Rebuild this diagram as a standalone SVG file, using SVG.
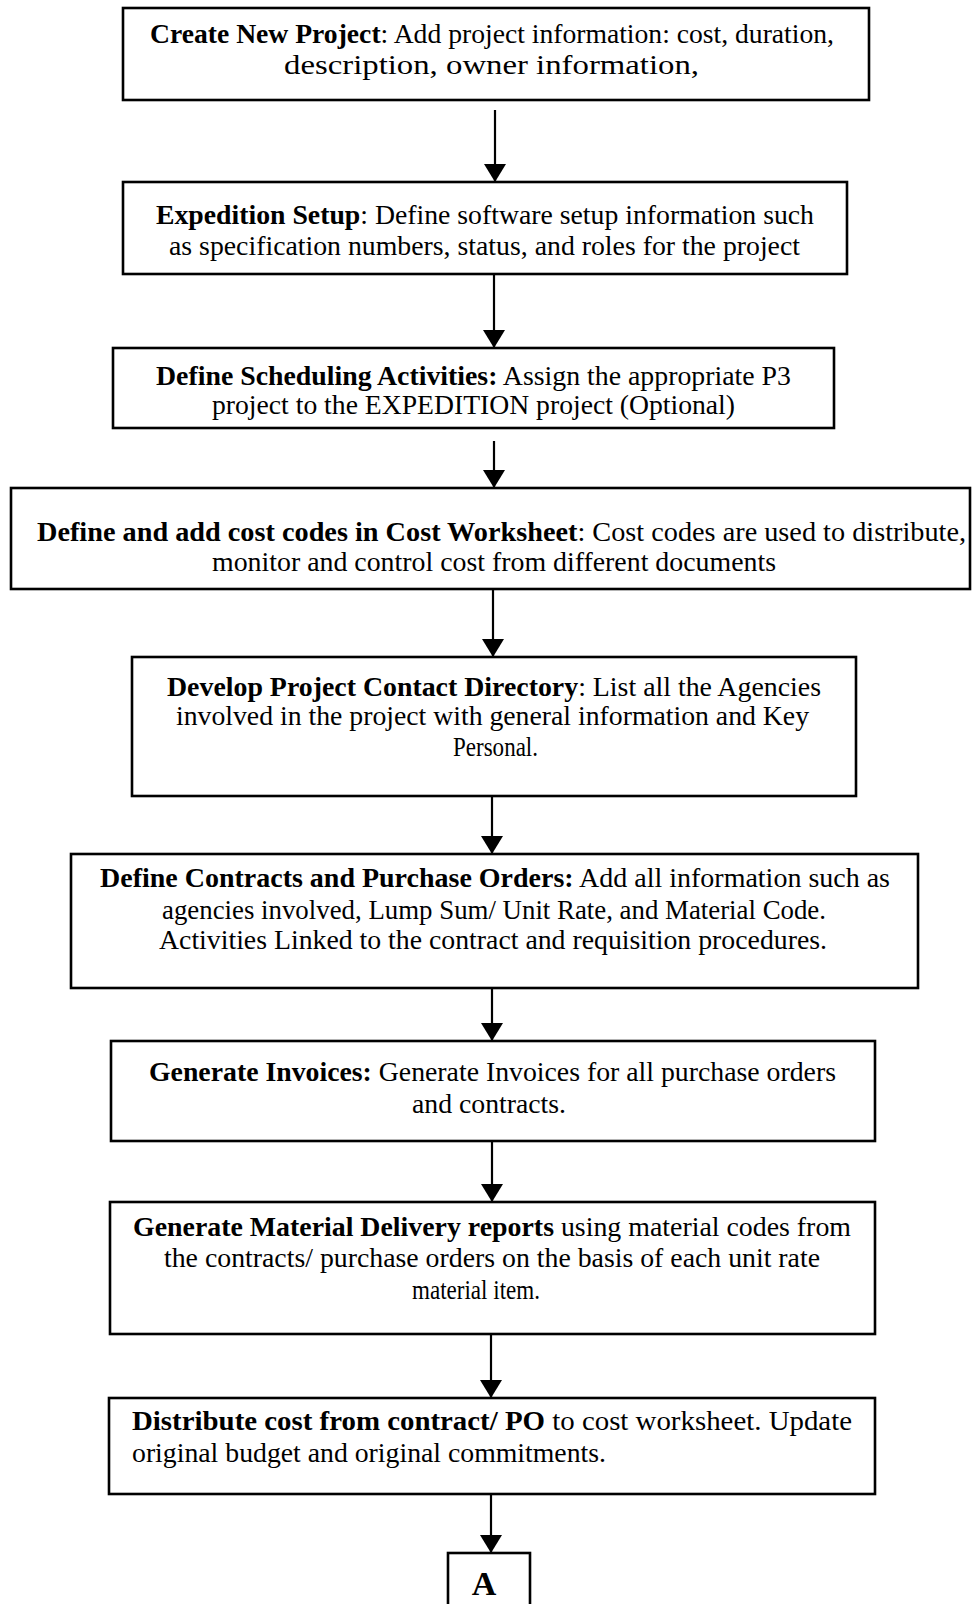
<svg xmlns="http://www.w3.org/2000/svg" width="972" height="1604" viewBox="0 0 972 1604">
  <style>
    .box { fill: #ffffff; stroke: #000000; stroke-width: 2.6; }
    .lbl { font-family: "Liberation Serif", "Times New Roman", serif; font-size: 27.5px; fill: #000000; }
    .c { text-anchor: middle; }
    .b { font-weight: bold; }
    .link { stroke: #000000; stroke-width: 2.2; fill: none; marker-end: url(#head); }
  </style>
  <defs>
    <marker id="head" viewBox="0 0 18 22" refX="18" refY="11" markerWidth="18" markerHeight="22" markerUnits="userSpaceOnUse" orient="auto">
      <path d="M0,0 L18,11 L0,22 z" fill="#000000"/>
    </marker>
  </defs>
  <rect width="972" height="1604" fill="#ffffff"/>

  <g id="connectors">
    <line class="link" x1="495" y1="110" x2="495" y2="182"/>
    <line class="link" x1="494" y1="274" x2="494" y2="348"/>
    <line class="link" x1="494" y1="441" x2="494" y2="488"/>
    <line class="link" x1="493" y1="582" x2="493" y2="657"/>
    <line class="link" x1="492" y1="796" x2="492" y2="854"/>
    <line class="link" x1="492" y1="988" x2="492" y2="1041"/>
    <line class="link" x1="492" y1="1141" x2="492" y2="1202"/>
    <line class="link" x1="491" y1="1334" x2="491" y2="1398"/>
    <line class="link" x1="491" y1="1494" x2="491" y2="1553"/>
  </g>

  <g id="create-project">
    <rect class="box" x="123" y="8" width="746" height="92"/>
    <text class="lbl" x="150" y="43" textLength="684" lengthAdjust="spacingAndGlyphs"><tspan class="b">Create New Project</tspan>: Add project information: cost, duration,</text>
    <text class="lbl" x="284" y="74" textLength="415" lengthAdjust="spacingAndGlyphs">description, owner information,</text>
  </g>

  <g id="expedition-setup">
    <rect class="box" x="123" y="182" width="724" height="92"/>
    <text class="lbl" x="156" y="224" textLength="658" lengthAdjust="spacingAndGlyphs"><tspan class="b">Expedition Setup</tspan>: Define software setup information such</text>
    <text class="lbl" x="169" y="255" textLength="631" lengthAdjust="spacingAndGlyphs">as specification numbers, status, and roles for the project</text>
  </g>

  <g id="scheduling-activities">
    <rect class="box" x="113" y="348" width="721" height="80"/>
    <text class="lbl" x="156" y="385" textLength="635" lengthAdjust="spacingAndGlyphs"><tspan class="b">Define Scheduling Activities:</tspan> Assign the appropriate P3</text>
    <text class="lbl" x="212" y="414" textLength="523" lengthAdjust="spacingAndGlyphs">project to the EXPEDITION project (Optional)</text>
  </g>

  <g id="cost-worksheet">
    <rect class="box" x="11" y="488" width="959" height="101"/>
    <text class="lbl" x="37" y="541" textLength="929" lengthAdjust="spacingAndGlyphs"><tspan class="b">Define and add cost codes in Cost Worksheet</tspan>: Cost codes are used to distribute,</text>
    <text class="lbl" x="212" y="571" textLength="564" lengthAdjust="spacingAndGlyphs">monitor and control cost from different documents</text>
  </g>

  <g id="contact-directory">
    <rect class="box" x="132" y="657" width="724" height="139"/>
    <text class="lbl" x="167" y="696" textLength="654" lengthAdjust="spacingAndGlyphs"><tspan class="b">Develop Project Contact Directory</tspan>: List all the Agencies</text>
    <text class="lbl" x="176" y="725" textLength="633" lengthAdjust="spacingAndGlyphs">involved in the project with general information and Key</text>
    <text class="lbl" x="453" y="756" textLength="85" lengthAdjust="spacingAndGlyphs">Personal.</text>
  </g>

  <g id="contracts-purchase-orders">
    <rect class="box" x="71" y="854" width="847" height="134"/>
    <text class="lbl" x="100" y="887" textLength="790" lengthAdjust="spacingAndGlyphs"><tspan class="b">Define Contracts and Purchase Orders:</tspan> Add all information such as</text>
    <text class="lbl" x="162" y="919" textLength="664" lengthAdjust="spacingAndGlyphs">agencies involved, Lump Sum/ Unit Rate, and Material Code.</text>
    <text class="lbl" x="159" y="949" textLength="668" lengthAdjust="spacingAndGlyphs">Activities Linked to the contract and requisition procedures.</text>
  </g>

  <g id="generate-invoices">
    <rect class="box" x="111" y="1041" width="764" height="100"/>
    <text class="lbl" x="149" y="1081" textLength="687" lengthAdjust="spacingAndGlyphs"><tspan class="b">Generate Invoices:</tspan> Generate Invoices for all purchase orders</text>
    <text class="lbl" x="412" y="1113" textLength="154" lengthAdjust="spacingAndGlyphs">and contracts.</text>
  </g>

  <g id="material-delivery">
    <rect class="box" x="110" y="1202" width="765" height="132"/>
    <text class="lbl" x="133" y="1236" textLength="718" lengthAdjust="spacingAndGlyphs"><tspan class="b">Generate Material Delivery reports</tspan> using material codes from</text>
    <text class="lbl" x="164" y="1267" textLength="656" lengthAdjust="spacingAndGlyphs">the contracts/ purchase orders on the basis of each unit rate</text>
    <text class="lbl" x="412" y="1299" textLength="128" lengthAdjust="spacingAndGlyphs">material item.</text>
  </g>

  <g id="distribute-cost">
    <rect class="box" x="109" y="1398" width="766" height="96"/>
    <text class="lbl" x="132" y="1430" textLength="720" lengthAdjust="spacingAndGlyphs"><tspan class="b">Distribute cost from contract/ PO</tspan> to cost worksheet. Update</text>
    <text class="lbl" x="132" y="1462" textLength="474" lengthAdjust="spacingAndGlyphs">original budget and original commitments.</text>
  </g>

  <g id="connector-a">
    <rect class="box" x="448" y="1553" width="82" height="62"/>
    <text class="lbl c b" x="484" y="1595" style="font-size:34px">A</text>
  </g>
</svg>
